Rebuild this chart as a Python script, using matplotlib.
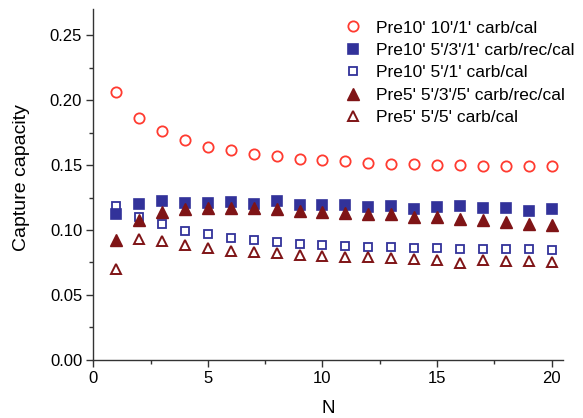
import matplotlib
matplotlib.use("Agg")
import matplotlib.pyplot as plt
from matplotlib.ticker import MultipleLocator, FormatStrFormatter

plt.rcParams['font.family'] = ['Liberation Sans', 'DejaVu Sans']

N = list(range(1, 21))

pre10_10_1 = [0.206, 0.1865, 0.1765, 0.1693, 0.1642, 0.1614, 0.1588, 0.1568, 0.155, 0.1536,
              0.153, 0.1517, 0.1512, 0.1507, 0.1504, 0.1499, 0.1496, 0.1493, 0.1491, 0.149]
pre10_5_3_1 = [0.1127, 0.1203, 0.1222, 0.1209, 0.121, 0.1212, 0.1204, 0.1225, 0.1196, 0.1196,
               0.1196, 0.118, 0.1186, 0.1163, 0.1178, 0.1184, 0.1168, 0.1166, 0.115, 0.1161]
pre10_5_1 = [0.1186, 0.110, 0.1043, 0.0992, 0.0966, 0.0938, 0.0922, 0.0904, 0.0896, 0.0886,
             0.0879, 0.0871, 0.0868, 0.0861, 0.0858, 0.0856, 0.0853, 0.0851, 0.0851, 0.0848]
pre5_5_3_5 = [0.0922, 0.108, 0.114, 0.116, 0.117, 0.117, 0.117, 0.1158, 0.1148, 0.114,
              0.1134, 0.1127, 0.112, 0.110, 0.1097, 0.1081, 0.1076, 0.1058, 0.1048, 0.1038]
pre5_5_5 = [0.0697, 0.0927, 0.0915, 0.0884, 0.0858, 0.084, 0.0833, 0.082, 0.0804, 0.080,
            0.0794, 0.0789, 0.0781, 0.0776, 0.0769, 0.0743, 0.0769, 0.0761, 0.0758, 0.0756]

labels = ["Pre10' 10'/1' carb/cal", "Pre10' 5'/3'/1' carb/rec/cal", "Pre10' 5'/1' carb/cal",
          "Pre5' 5'/3'/5' carb/rec/cal", "Pre5' 5'/5' carb/cal"]

red = '#FF3B30'
navy = '#32329A'
maroon = '#7F1416'

fig = plt.figure(figsize=(5.83, 4.18), dpi=100)
ax = fig.add_axes([0.160, 0.139, 0.806, 0.839])

ax.plot(N, pre10_10_1, linestyle='none', marker='o', ms=7.4, mfc='none', mec=red, mew=1.3, label=labels[0])
ax.plot(N, pre10_5_3_1, linestyle='none', marker='s', ms=6.6, mfc=navy, mec=navy, mew=1.2, label=labels[1])
ax.plot(N, pre10_5_1, linestyle='none', marker='s', ms=6.3, mfc='none', mec=navy, mew=1.3, label=labels[2])
ax.plot(N, pre5_5_3_5, linestyle='none', marker='^', ms=8.0, mfc=maroon, mec=maroon, mew=1.0, label=labels[3])
ax.plot(N, pre5_5_5, linestyle='none', marker='^', ms=7.8, mfc='none', mec=maroon, mew=1.4, label=labels[4])

ax.set_xlim(0, 20.5)
ax.set_ylim(0, 0.27)
ax.xaxis.set_major_locator(MultipleLocator(5))
ax.xaxis.set_minor_locator(MultipleLocator(2.5))
ax.yaxis.set_major_locator(MultipleLocator(0.05))
ax.yaxis.set_minor_locator(MultipleLocator(0.025))
ax.yaxis.set_major_formatter(FormatStrFormatter('%.2f'))

for s in ['top', 'right']:
    ax.spines[s].set_visible(False)
for s in ['left', 'bottom']:
    ax.spines[s].set_linewidth(1.0)
    ax.spines[s].set_color('#333333')

ax.tick_params(which='major', direction='out', length=5, width=1.0, labelsize=12, colors='#333333',
               labelcolor='black', pad=3)
ax.tick_params(which='minor', direction='out', length=3, width=1.0, colors='#333333')

ax.set_xlabel('N', fontsize=13.5)
ax.set_ylabel('Capture capacity', fontsize=14)
ax.xaxis.set_label_coords(0.5, -0.113)
ax.yaxis.set_label_coords(-0.135, 0.52)

leg = ax.legend(loc='upper left', bbox_to_anchor=(0.51, 0.988), frameon=False, fontsize=12.5,
                handletextpad=0.6, labelspacing=0.42, handlelength=1.5, borderaxespad=0.0)

fig.savefig('out.png', dpi=100)
